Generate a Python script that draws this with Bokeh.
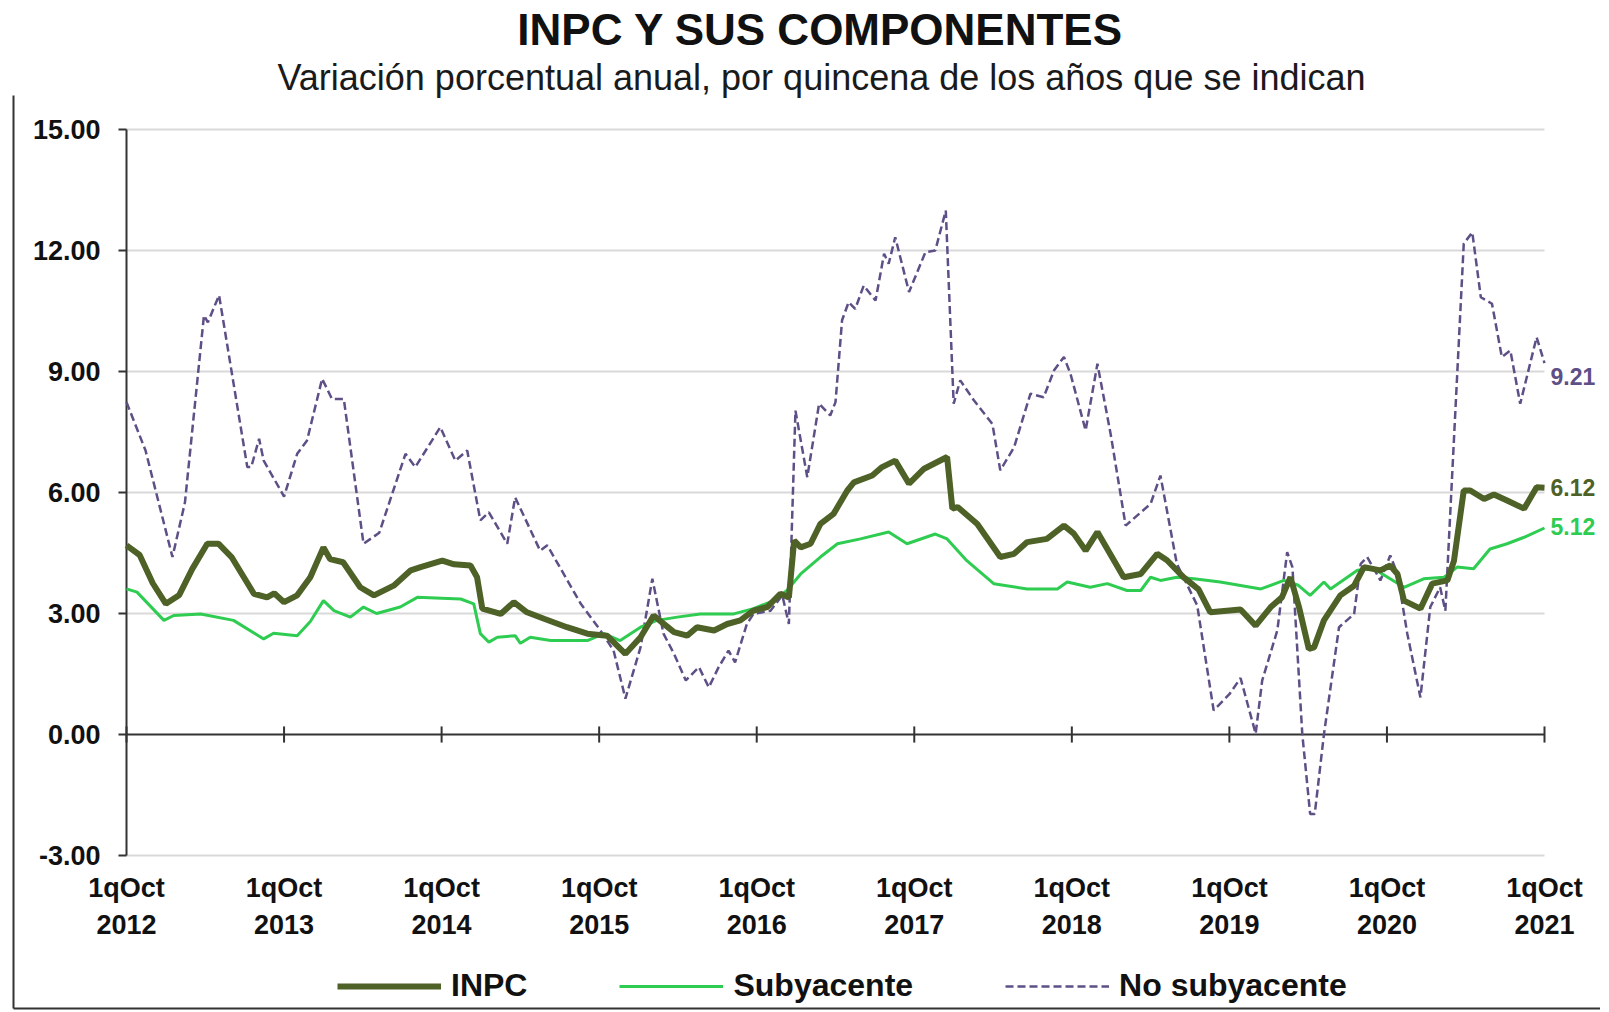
from bokeh.plotting import figure
from bokeh.models import (Legend, LegendItem, Label)
from bokeh.core.properties import value
from bokeh.embed import file_html
from bokeh.resources import INLINE

# ---------------- data (x = quincena index since 1qOct 2012) ----------------
year_ticks = [0, 24, 48, 72, 96, 120, 144, 168, 192, 216]
year_labels = ["1qOct\n2012", "1qOct\n2013", "1qOct\n2014", "1qOct\n2015", "1qOct\n2016",
               "1qOct\n2017", "1qOct\n2018", "1qOct\n2019", "1qOct\n2020", "1qOct\n2021"]
y_ticks = [-3, 0, 3, 6, 9, 12, 15]
y_labels = ["-3.00", "0.00", "3.00", "6.00", "9.00", "12.00", "15.00"]

inpc_q = [0, 2, 4, 6, 8, 10, 12.3, 14, 16, 19.4, 21.4, 22.5, 24, 26, 28, 30, 31, 33, 35.6, 37.7,
          40.7, 43.3, 44.8, 48.1, 49.9, 52.4, 53.4, 54.2, 57, 59, 61, 63.6, 67.1, 70.2, 73.2, 76,
          78.3, 80.3, 81.8, 83.4, 85.4, 86.9, 89.5, 91.5, 93.5, 95.5, 97.6, 99.6, 100.9, 101.7,
          102.7, 104.2, 105.7, 107.7, 109.8, 110.8, 113.6, 115.1, 117.1, 119.2, 121.5, 125, 125.8,
          126.6, 129.6, 133.1, 135.2, 137.2, 140.2, 142.8, 144.3, 146.1, 147.9, 151.9, 154.5, 157,
          158.5, 161, 163.3, 165.1, 169.7, 172, 174.3, 176, 177.3, 178.6, 180.1, 180.9, 182.4,
          184.9, 187, 188.5, 191, 192.5, 193.6, 194.6, 197.1, 198.9, 201.2, 202.2, 203.7, 204.7,
          206.8, 208.3, 210.3, 212.9, 214.8, 216]
inpc_v = [4.69, 4.45, 3.75, 3.24, 3.45, 4.10, 4.73, 4.73, 4.40, 3.49, 3.40, 3.50, 3.28, 3.45, 3.90,
          4.64, 4.35, 4.27, 3.65, 3.45, 3.69, 4.07, 4.15, 4.31, 4.22, 4.19, 3.90, 3.12, 2.99, 3.28,
          3.03, 2.87, 2.66, 2.50, 2.45, 2.00, 2.41, 2.95, 2.75, 2.54, 2.45, 2.66, 2.58, 2.74, 2.83,
          3.07, 3.16, 3.49, 3.40, 4.81, 4.64, 4.73, 5.22, 5.47, 6.05, 6.25, 6.42, 6.63, 6.79, 6.22,
          6.59, 6.88, 5.60, 5.64, 5.22, 4.40, 4.48, 4.77, 4.85, 5.18, 4.98, 4.56, 5.02, 3.90, 3.98,
          4.48, 4.32, 3.90, 3.60, 3.03, 3.10, 2.70, 3.16, 3.40, 3.90, 3.16, 2.12, 2.16, 2.83, 3.45,
          3.69, 4.15, 4.07, 4.19, 3.98, 3.32, 3.12, 3.74, 3.82, 4.30, 6.05, 6.05, 5.84, 5.95, 5.80,
          5.60, 6.13, 6.12]

sub_q = [0, 1.6, 5.7, 7.2, 11.3, 16.3, 20.9, 22.4, 26, 28, 30, 31.6, 34.1, 36.1, 38.1, 41.7, 44.3,
         48, 50.9, 52.9, 53.9, 55.2, 56.5, 59.2, 60, 61.5, 64.6, 70.2, 72.7, 75.2, 78.3, 80.8, 83.9,
         87.4, 92.5, 95.5, 98.6, 100.6, 102.7, 105.7, 108.3, 111.8, 116.1, 118.9, 123.2, 125, 128,
         132.1, 137.2, 141.8, 143.3, 146.8, 149.4, 152.4, 154.5, 156, 157.5, 160, 162.6, 166.6,
         172.8, 176.3, 178.5, 180.3, 182.4, 183.4, 187.5, 190, 194.6, 197.6, 200.7, 202.7, 205.2,
         207.7, 210.3, 212.9, 216]
sub_v = [3.61, 3.53, 2.83, 2.95, 2.99, 2.83, 2.37, 2.51, 2.45, 2.80, 3.32, 3.07, 2.91, 3.16, 3.00,
         3.16, 3.40, 3.38, 3.36, 3.24, 2.50, 2.29, 2.41, 2.45, 2.26, 2.41, 2.33, 2.33, 2.50, 2.33,
         2.66, 2.83, 2.91, 2.99, 2.99, 3.12, 3.32, 3.57, 3.98, 4.40, 4.73, 4.85, 5.02, 4.73, 4.97,
         4.85, 4.31, 3.74, 3.61, 3.61, 3.78, 3.65, 3.74, 3.57, 3.57, 3.90, 3.82, 3.90, 3.86, 3.78,
         3.61, 3.82, 3.70, 3.45, 3.78, 3.61, 4.07, 4.11, 3.65, 3.86, 3.90, 4.15, 4.11, 4.60, 4.73,
         4.89, 5.12]

nosub_q = [0, 2.9, 7, 8.9, 11.8, 12.4, 14.1, 18.4, 19, 20.2, 20.9, 24, 26, 27.5, 29.8, 31.3, 33.1,
           36.1, 38.5, 42.5, 44, 47.8, 50.1, 51.9, 53.9, 55.2, 58, 59.2, 63, 64.1, 69.2, 72.2, 74.2,
           76, 78.3, 80.1, 81.8, 83.4, 85.2, 87.2, 88.7, 90.2, 91.7, 92.7, 94.5, 95.5, 98.1, 99.9,
           100.9, 101.9, 103.7, 105.5, 107.2, 108, 109, 110, 111, 112.3, 114.1, 115.4, 116.1, 117.1,
           119.2, 121.7, 123.2, 124.8, 126, 127, 129.1, 131.9, 133.1, 135.2, 137.7, 139.7, 141.3,
           142.8, 143.8, 146.1, 147.9, 149.9, 152.2, 156, 157.5, 160, 163.1, 165.6, 168, 169.7, 172,
           173, 175.3, 176.8, 177.6, 179.1, 180.3, 181, 182.4, 184.7, 187, 188, 189, 191, 192.5,
           193.6, 195.1, 197.1, 198.6, 200.1, 200.9, 203.7, 205, 206.3, 208, 209.5, 210.8, 212.3,
           214.8, 216]
nosub_v = [8.24, 7.04, 4.40, 5.75, 10.39, 10.22, 10.89, 6.63, 6.63, 7.33, 6.79, 5.90, 6.96, 7.29,
           8.82, 8.32, 8.32, 4.73, 5.00, 6.96, 6.63, 7.62, 6.79, 7.04, 5.31, 5.51, 4.73, 5.88, 4.56,
           4.69, 3.24, 2.58, 2.08, 0.89, 2.16, 3.86, 2.50, 2.00, 1.34, 1.67, 1.17, 1.67, 2.08, 1.79,
           2.74, 2.99, 3.07, 3.45, 2.74, 8.03, 6.38, 8.20, 7.91, 8.24, 10.27, 10.72, 10.55, 11.13,
           10.76, 11.92, 11.67, 12.33, 10.97, 11.96, 12.00, 12.99, 8.20, 8.78, 8.28, 7.70, 6.55, 7.12,
           8.45, 8.36, 9.03, 9.36, 8.94, 7.54, 9.19, 7.46, 5.18, 5.72, 6.42, 4.23, 3.20, 0.60, 1.00,
           1.40, 0.02, 1.34, 2.58, 4.52, 4.15, 0.02, -1.97, -1.97, 0.00, 2.66, 2.99, 4.23, 4.40, 3.82,
           4.44, 3.98, 2.50, 0.92, 3.16, 3.65, 3.07, 12.17, 12.45, 10.84, 10.68, 9.36, 9.52, 8.20,
           9.85, 9.21]

title_text = "INPC Y SUS COMPONENTES"
subtitle_text = "Variación porcentual anual, por quincena de los años que se indican"

INPC_C = "#4E6127"
SUB_C = "#2ECC50"
NOSUB_C = "#5E4F86"
AXIS_C = "#333333"
FONT = "Liberation Sans"

# layout geometry (pixels of the 1600 x 1010 canvas)
W, H = 1600, 1010
PLOT_L, PLOT_R, PLOT_T, PLOT_B = 126, 1544, 129, 855
PX_PER_X = (PLOT_R - PLOT_L) / (year_ticks[-1] - year_ticks[0])
PX_PER_Y = (PLOT_B - PLOT_T) / (y_ticks[-1] - y_ticks[0])
X_START = year_ticks[0] - PLOT_L / PX_PER_X
X_END = year_ticks[-1] + (W - PLOT_R) / PX_PER_X
Y_END = y_ticks[-1] + PLOT_T / PX_PER_Y
Y_START = y_ticks[0] - (H - PLOT_B) / PX_PER_Y


def ypx(py):
    """data y for a canvas pixel row"""
    return y_ticks[-1] + (PLOT_T - py) / PX_PER_Y


def xpx(px):
    """data x for a canvas pixel column"""
    return year_ticks[0] + (px - PLOT_L) / PX_PER_X


p = figure(frame_width=W, frame_height=H, output_backend="svg", toolbar_location=None,
           x_range=(X_START, X_END), y_range=(Y_START, Y_END), min_border_left=0,
           min_border_right=0, min_border_top=0, min_border_bottom=0)
p.background_fill_color = "white"
p.border_fill_color = "white"
p.outline_line_color = None
p.xaxis.visible = False
p.yaxis.visible = False
p.xgrid.grid_line_color = None
p.ygrid.grid_line_color = None

# outer chart border (left and bottom edges)
p.segment(x0=[xpx(13), xpx(13)], x1=[xpx(13), X_END], y0=[ypx(95), ypx(1008)],
          y1=[ypx(1008), ypx(1008)], line_color=AXIS_C, line_width=2)

# horizontal grid lines over the data span
grid_y = [t for t in y_ticks if t != 0]
p.segment(x0=[year_ticks[0]] * len(grid_y), x1=[year_ticks[-1]] * len(grid_y), y0=grid_y, y1=grid_y,
          line_color="#d9d9d9", line_width=2)

# value axis: line, outward ticks and labels
p.segment(x0=[year_ticks[0]], x1=[year_ticks[0]], y0=[y_ticks[0]], y1=[y_ticks[-1]],
          line_color=AXIS_C, line_width=2)
p.segment(x0=[year_ticks[0] - 8 / PX_PER_X] * len(y_ticks), x1=[year_ticks[0]] * len(y_ticks),
          y0=y_ticks, y1=y_ticks, line_color=AXIS_C, line_width=2)
p.text(x=[year_ticks[0]] * len(y_ticks), y=y_ticks, text=y_labels, x_offset=-26,
       text_align="right", text_baseline="middle", text_font=value(FONT),
       text_font_size="27px", text_font_style="bold", text_color="#111111")

# zero axis with crossing ticks and the period labels under the value range
p.segment(x0=[year_ticks[0]], x1=[year_ticks[-1]], y0=[0], y1=[0], line_color=AXIS_C, line_width=2)
p.segment(x0=year_ticks, x1=year_ticks, y0=[-0.2] * len(year_ticks), y1=[0.2] * len(year_ticks),
          line_color=AXIS_C, line_width=2)
p.text(x=year_ticks, y=[y_ticks[0]] * len(year_ticks), text=year_labels, y_offset=17,
       text_align="center", text_baseline="top", text_font=value(FONT),
       text_font_size="27px", text_font_style="bold", text_color="#111111",
       text_line_height=1.25)

# series
r_nosub = p.line(nosub_q, nosub_v, line_color=NOSUB_C, line_width=2.5, line_dash="8 4")
r_sub = p.line(sub_q, sub_v, line_color=SUB_C, line_width=3)
r_inpc = p.line(inpc_q, inpc_v, line_color=INPC_C, line_width=6)

# end labels
for val, col, yo in [(nosub_v[-1], NOSUB_C, -13), (inpc_v[-1], INPC_C, 0), (sub_v[-1], SUB_C, 1)]:
    p.add_layout(Label(x=year_ticks[-1], y=val, text=f"{val:.2f}", x_offset=6, y_offset=yo,
                       text_font=FONT, text_font_size="23px", text_font_style="bold",
                       text_color=col, text_baseline="middle"))

# title and subtitle
p.add_layout(Label(x=xpx(820), y=ypx(29), text=title_text, text_align="center",
                   text_baseline="middle", text_font=FONT, text_font_size="44px",
                   text_font_style="bold", text_color="#111111"))
p.add_layout(Label(x=xpx(821), y=ypx(77), text=subtitle_text, text_align="center",
                   text_baseline="middle", text_font=FONT, text_font_size="36px",
                   text_font_style="normal", text_color="#1a1a1a"))

legend = Legend(items=[LegendItem(label="INPC", renderers=[r_inpc]),
                       LegendItem(label="Subyacente", renderers=[r_sub]),
                       LegendItem(label="No subyacente", renderers=[r_nosub])],
                orientation="horizontal", location=(337, 6), glyph_width=104, glyph_height=30,
                label_standoff=10, spacing=92, label_text_font=FONT,
                label_text_font_size="32px", label_text_font_style="bold",
                label_text_color="#111111", border_line_color=None, background_fill_alpha=0,
                padding=2, margin=0)
p.add_layout(legend)

open("out.html", "w").write(file_html(p, INLINE))
